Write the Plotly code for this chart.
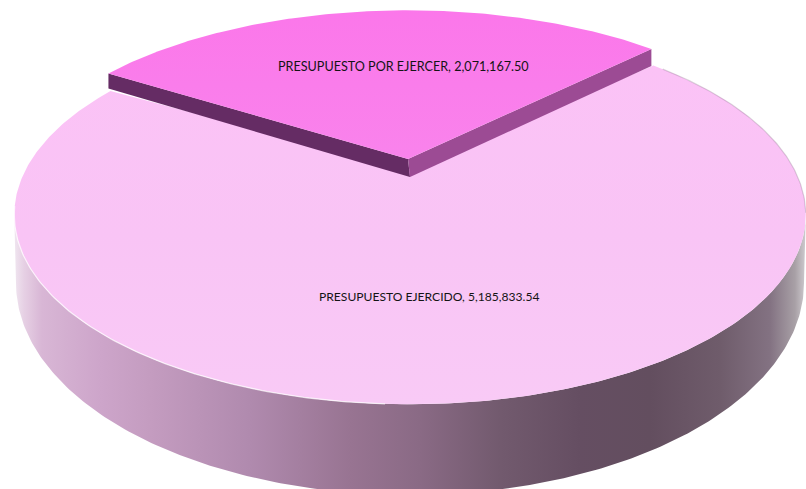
import numpy as np
import plotly.graph_objects as go

categories = ["PRESUPUESTO EJERCIDO", "PRESUPUESTO POR EJERCER"]
values = [5185833.54, 2071167.50]
value_labels = ["5,185,833.54", "2,071,167.50"]

W, H = 806, 489
START_DEG = 45.0      # clockwise from the far side of the pie
K = 0.184             # perspective strength


def project(theta_deg, cx, cy, a, b, k=K):
    t = np.radians(theta_deg)
    w = 1 + k * np.cos(t)
    return cx + a * np.sin(t) / w, cy - b * np.cos(t) / w


total = sum(values)
sweeps = [v / total * 360 for v in values]
main_a0, main_a1 = START_DEG, START_DEG + sweeps[0]
wedge_a0, wedge_a1 = main_a1, main_a1 + sweeps[1]

TOP = dict(cx=410, cy=180, a=389, b=183)
BOTTOM = dict(cx=410, cy=283, a=394, b=212, k=0)
WEDGE = dict(cx=408, cy=159, a=389, b=176)
WEDGE_T0, WEDGE_T1 = 15, 18

fig = go.Figure()


def poly(x, y, color=None, gradient=None):
    kw = dict(fillgradient=gradient) if gradient else dict(fillcolor=color)
    fig.add_trace(go.Scatter(x=list(x), y=list(y), mode="lines", fill="toself",
                             line=dict(width=0), hoverinfo="skip", showlegend=False, **kw))


def stroke(x, y, color, width):
    fig.add_trace(go.Scatter(x=list(x), y=list(y), mode="lines",
                             line=dict(color=color, width=width),
                             hoverinfo="skip", showlegend=False))


# side wall of the main slice
tx, ty = project(np.linspace(100.6, 259.4, 240), **TOP)
bx, by = project(np.linspace(90, 270, 240), **BOTTOM)
wall_colors = [(14, "#f0e6f0"), (24, "#e6d0e4"), (42, "#d8b6d5"), (100, "#cda5ca"), (150, "#c49cc0"),
               (250, "#b08aae"), (350, "#987492"), (420, "#8a6a85"), (500, "#725a6e"),
               (580, "#654e62"), (650, "#634e5f"), (720, "#6f5c6b"), (770, "#837282"),
               (795, "#a8a0a6"), (806, "#d0ccd0")]
x0, x1 = wall_colors[0][0], wall_colors[-1][0]
wall_stops = [[(x - x0) / (x1 - x0), c] for x, c in wall_colors]
poly(np.r_[tx[::-1], bx], np.r_[ty[::-1], by],
     gradient=dict(type="horizontal", colorscale=wall_stops, start=x0, stop=x1))

# top face of the main slice
th = np.linspace(main_a0, main_a1, 400)
mx, my = project(th, **TOP)
poly(np.r_[mx, 410], np.r_[my, 170],
     gradient=dict(type="vertical", colorscale=[[0, "#f9caf6"], [0.5, "#f9c4f5"], [1, "#fbc2f6"]]))

# rim highlights
hx, hy = project(np.linspace(183, 262, 120), **TOP)
stroke(hx, hy, "rgba(255,255,255,0.7)", 1.3)
sx, sy = project(np.linspace(main_a0 + 2, 100, 100), **TOP)
stroke(sx, sy, "rgba(110,90,110,0.25)", 1.2)

# exploded wedge
th = np.linspace(wedge_a0, wedge_a1, 200)
wx, wy = project(th, **WEDGE)
ax0, ay0 = WEDGE["cx"], WEDGE["cy"]
poly([wx[0], ax0, ax0 + 2, wx[0]], [wy[0], ay0, ay0 + WEDGE_T1, wy[0] + WEDGE_T0], color="#652c64")
poly([wx[-1], ax0, ax0 + 2, wx[-1]], [wy[-1], ay0, ay0 + WEDGE_T1, wy[-1] + WEDGE_T0 + 2], color="#9c4b94")
poly(np.r_[wx, ax0], np.r_[wy, ay0],
     gradient=dict(type="vertical", colorscale=[[0, "#f983ec"], [1, "#fb77ea"]]))

for name, txt, lx, ly, size in [(categories[1], value_labels[1], 403, 66, 12.6),
                                (categories[0], value_labels[0], 429, 296, 12.1)]:
    fig.add_annotation(x=lx, y=ly, text=f"{name}, {txt}", showarrow=False,
                       font=dict(family="Lato, sans-serif", size=size, color="#141414"),
                       xanchor="center", yanchor="middle")

fig.update_layout(width=W, height=H, margin=dict(l=0, r=0, t=0, b=0),
                  paper_bgcolor="white", plot_bgcolor="white",
                  xaxis=dict(range=[0, W], visible=False, fixedrange=True),
                  yaxis=dict(range=[H, 0], visible=False, fixedrange=True),
                  showlegend=False)
fig.write_html("out.html", config=dict(displayModeBar=False),
               post_script="document.body.style.margin='0';")
